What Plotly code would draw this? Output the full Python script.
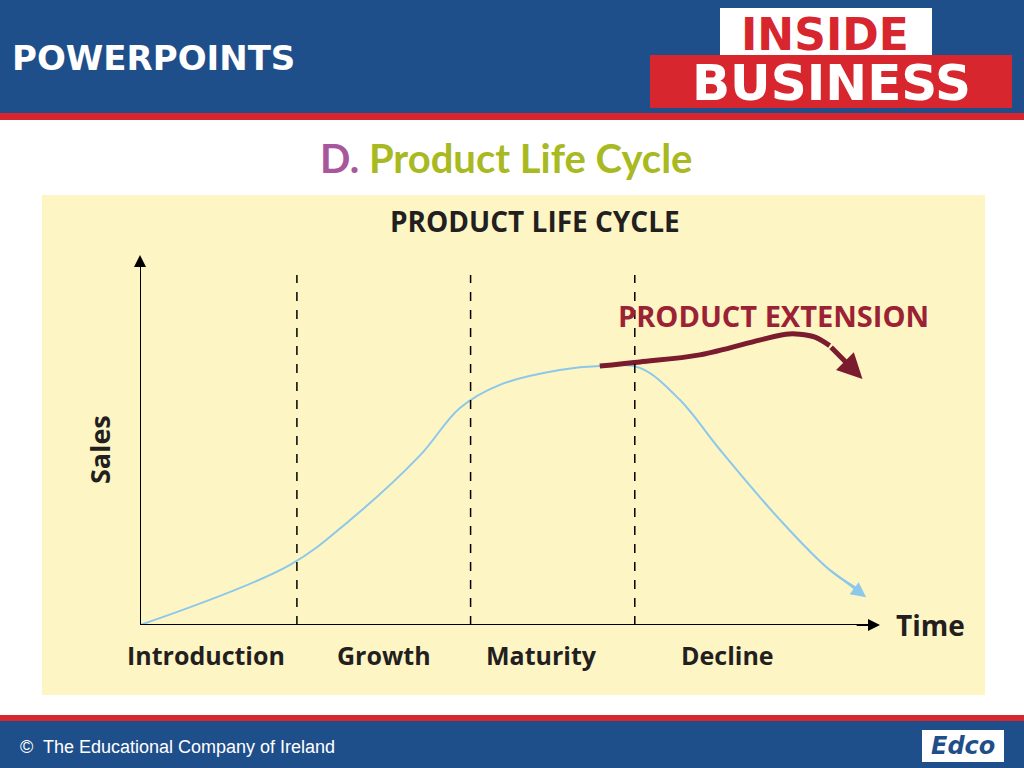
import plotly.graph_objects as go

# Data (time %, sales %)
life_time = [0, 20.5, 28.8, 38.4, 43.8, 49.3, 57.5, 63.0, 68.5, 74.0, 79.5, 87.7, 94.5, 99.0]
life_sales = [0, 16.2, 28.4, 45.9, 58.6, 64.9, 68.9, 70.0, 69.5, 60.8, 47.3, 28.4, 14.9, 9.0]
ext_time = [63.0, 68.5, 76.7, 84.9, 88.5, 90.4, 92.5, 94.5, 97.5]
ext_sales = [70.0, 71.1, 73.0, 77.0, 78.6, 78.6, 77.8, 75.5, 70.0]
stage_bounds = [21.5, 45.3, 67.8]
stage_names = ["Introduction", "Growth", "Maturity", "Decline"]
stage_centers = [9.0, 33.5, 55.0, 80.5]

W, H = 1024, 768
def px(x): return x / W
def py(y): return 1 - y / H

fig = go.Figure()
fig.add_trace(go.Scatter(x=life_time, y=life_sales, mode="lines", line=dict(color="#8cc8ea", width=2, shape="spline"), hoverinfo="skip"))
fig.add_trace(go.Scatter(x=ext_time[:-1], y=ext_sales[:-1], mode="lines", line=dict(color="#7a1b2e", width=5, shape="spline"), hoverinfo="skip"))

shapes = [
    dict(type="rect", xref="paper", yref="paper", x0=0, x1=1, y0=py(113), y1=1, fillcolor="#1f4f8a", line_width=0, layer="below"),
    dict(type="rect", xref="paper", yref="paper", x0=0, x1=1, y0=py(120), y1=py(113), fillcolor="#d8262f", line_width=0, layer="below"),
    dict(type="rect", xref="paper", yref="paper", x0=px(42), x1=px(985), y0=py(695), y1=py(195), fillcolor="#fdf5c4", line_width=0, layer="below"),
    dict(type="rect", xref="paper", yref="paper", x0=0, x1=1, y0=py(721), y1=py(715), fillcolor="#d8262f", line_width=0, layer="below"),
    dict(type="rect", xref="paper", yref="paper", x0=0, x1=1, y0=0, y1=py(721), fillcolor="#1f4f8a", line_width=0, layer="below"),
    dict(type="rect", xref="paper", yref="paper", x0=px(720), x1=px(932), y0=py(58), y1=py(8), fillcolor="white", line_width=0, layer="below"),
    dict(type="rect", xref="paper", yref="paper", x0=px(650), x1=px(1012), y0=py(108), y1=py(55), fillcolor="#d8262f", line_width=0, layer="below"),
    dict(type="rect", xref="paper", yref="paper", x0=px(922), x1=px(1004), y0=py(762), y1=py(730), fillcolor="white", line_width=0, layer="below"),
]
for b in stage_bounds:
    shapes.append(dict(type="line", xref="x", yref="y", x0=b, x1=b, y0=0, y1=94.6, line=dict(color="black", width=1.5, dash="dash")))
shapes.append(dict(type="line", xref="x", yref="y", x0=0, x1=0, y0=0, y1=97, line=dict(color="black", width=2)))
shapes.append(dict(type="line", xref="x", yref="y", x0=0, x1=99, y0=0, y1=0, line=dict(color="black", width=2)))

F = "Lato"
def T(x, y, text, size, color, family="Open Sans", xa="center", **kw):
    return dict(x=px(x), y=py(y), xref="paper", yref="paper", xanchor=xa, yanchor="middle",
                text=text, font=dict(family=family, size=size, color=color), showarrow=False, **kw)

ann = [
    dict(x=0, y=100, ax=0, ay=97, xref="x", yref="y", axref="x", ayref="y", showarrow=True, arrowhead=2, arrowsize=1.2, arrowwidth=2, arrowcolor="black", text=""),
    dict(x=101.4, y=0, ax=98, ay=0, xref="x", yref="y", axref="x", ayref="y", showarrow=True, arrowhead=2, arrowsize=1.2, arrowwidth=2, arrowcolor="black", text=""),
    dict(x=99.5, y=7.5, ax=life_time[-2], ay=life_sales[-2], xref="x", yref="y", axref="x", ayref="y", showarrow=True, arrowhead=2, arrowsize=1.5, arrowwidth=2, arrowcolor="#8cc8ea", text=""),
    dict(x=99.0, y=66.5, ax=ext_time[-2], ay=ext_sales[-2], xref="x", yref="y", axref="x", ayref="y", showarrow=True, arrowhead=2, arrowsize=1, arrowwidth=5, arrowcolor="#7a1b2e", text=""),
    T(10, 58, "<b>POWERPOINTS</b>", 34, "white", "DejaVu Sans", xa="left"),
    T(825, 34, "<b>INSIDE</b>", 44, "#d8262f", "DejaVu Sans"),
    T(831, 83, "<b>BUSINESS</b>", 50, "white", "DejaVu Sans"),
    T(506, 158, "<b><span style='color:#a8579c'>D.</span> Product Life Cycle</b>", 40, "#a9b922", F),
    T(535, 221, "<b>PRODUCT LIFE CYCLE</b>", 28, "#231f20"),
    T(99, 450, "<b>Sales</b>", 27, "#231f20", textangle=-90),
    T(930, 625, "<b>Time</b>", 28, "#231f20"),
    T(773, 316, "<b>PRODUCT EXTENSION</b>", 29, "#9b2235"),
    T(18, 747, "©  The Educational Company of Ireland", 18, "white", "Liberation Sans", xa="left"),
    T(963, 746, "<b><i>Edco</i></b>", 24, "#1f4f8a", "DejaVu Sans"),
]
for n, c in zip(stage_names, stage_centers):
    ann.append(dict(x=c, y=py(655), xref="x", yref="paper", yanchor="middle", text="<b>" + n + "</b>", font=dict(family="Open Sans", size=25, color="#231f20"), showarrow=False))

fig.update_layout(
    width=W, height=H, margin=dict(l=0, r=0, t=0, b=0), showlegend=False,
    paper_bgcolor="white", plot_bgcolor="rgba(0,0,0,0)",
    xaxis=dict(domain=[px(140), px(880)], range=[0, 101.4], visible=False),
    yaxis=dict(domain=[py(625), py(255)], range=[0, 100], visible=False),
    shapes=shapes, annotations=ann,
)
fig.write_html("out.html", config={"displayModeBar": False})
with open("out.html", encoding="utf-8") as f:
    html = f.read()
html = html.replace("<head>", "<head><style>html,body{margin:0;padding:0;overflow:hidden}</style>", 1)
with open("out.html", "w", encoding="utf-8") as f:
    f.write(html)
